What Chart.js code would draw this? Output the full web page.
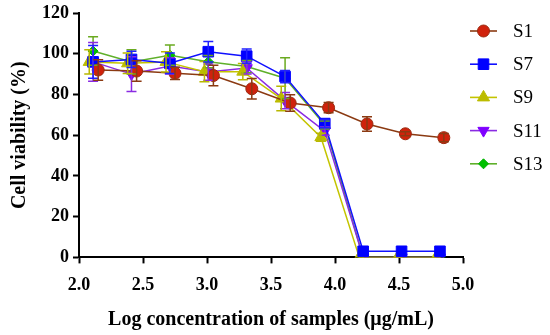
<!DOCTYPE html>
<html>
<head>
<meta charset="utf-8">
<script src="https://cdn.jsdelivr.net/npm/chart.js@4.4.0/dist/chart.umd.min.js"></script>
<style>
  html, body { margin: 0; padding: 0; background: #fff; }
  #wrap { width: 550px; height: 335px; position: relative; }
</style>
</head>
<body>
<div id="wrap"><canvas id="viability-chart"></canvas></div>
<script>
// log concentrations (µg/mL)
const logConc = [2.11, 2.41, 2.71, 3.01, 3.31, 3.61, 3.92, 4.22, 4.52, 4.82];
const logConcS1 = [2.15, 2.45, 2.75, 3.05, 3.35, 3.65, 3.95, 4.25, 4.55, 4.85];
const logConcS9 = [2.08, 2.38, 2.68, 2.98, 3.28, 3.58, 3.89, 4.19, 4.49, 4.79];

const s1 = [92, 91.5, 90.4, 89.3, 82.8, 75.8, 73.5, 65.5, 60.7, 58.8];
const s1Err = [5, 5, 3, 5, 5, 4, 2.5, 3.5, 1, 2];
const s7 = [96, 97.2, 95.3, 101, 98.8, 88.8, 65.7, 3, 3, 3];
const s7Err = [8, 4, 5, 5, 3.5, 3, 2, 0.5, 0.5, 0.5];
const s9 = [96, 95.3, 96, 91.2, 91.2, 78, 59, 0, 0, 0];
const s9Err = [6, 5, 5, 5, 4, 6, 2, 0.5, 0.5, 0.5];
const s11 = [96, 90, 94, 91, 93, 77, 62, 0, 0, 0];
const s11Err = [9.5, 8.5, 4, 4, 3, 4, 2, 0.5, 0.5, 0.5];
const s13 = [101.3, 96, 99.3, 96.1, 93.7, 88, 65, 0, 0, 0];
const s13Err = [7, 6, 5, 3, 3, 10, 2, 0.5, 0.5, 0.5];

const xTicks = [2.0, 2.5, 3.0, 3.5, 4.0, 4.5, 5.0];
const yTicks = [0, 20, 40, 60, 80, 100, 120];

const serif = "'Liberation Serif', 'DejaVu Serif', serif";

function pts(xs, ys) { return xs.map((x, i) => ({ x: x, y: ys[i] })); }

function series(label, xs, ys, errs, opts) {
    return Object.assign({
        label: label,
        data: pts(xs, ys),
        errors: errs,
        borderWidth: 1.5,
        pointBorderWidth: 1,
        tension: 0,
        fill: false,
        clip: { left: false, top: false, right: false, bottom: 0 }
    }, opts);
}

const datasets = [
    series('S1', logConcS1, s1, s1Err, {
        borderColor: '#8b3a12', pointBackgroundColor: '#d0220c', pointBorderColor: '#9a2a10',
        pointStyle: 'circle', pointRadius: 6, errColor: '#8b3a12'
    }),
    series('S7', logConc, s7, s7Err, {
        borderColor: '#1010ff', pointBackgroundColor: '#0000ff', pointBorderColor: '#0000ff',
        pointStyle: 'rect', pointRadius: 7.5, errColor: '#2020ff'
    }),
    series('S9', logConcS9, s9, s9Err, {
        borderColor: '#c4c400', pointBackgroundColor: '#bcbc00', pointBorderColor: '#bcbc00',
        pointStyle: 'triangle', pointRadius: 7, errColor: '#b8b800'
    }),
    series('S11', logConc, s11, s11Err, {
        borderColor: '#8a2be2', pointBackgroundColor: '#7f00ff', pointBorderColor: '#7f00ff',
        pointStyle: 'triangle', pointRotation: 180, pointRadius: 6.5, errColor: '#8a2be2'
    }),
    series('S13', logConc, s13, s13Err, {
        borderColor: '#5fb02a', pointBackgroundColor: '#00c000', pointBorderColor: '#00b000',
        pointStyle: 'rectRot', pointRadius: 5, errColor: '#6aaa20'
    })
];

// vertical error bars with caps
const errorBars = {
    id: 'errorBars',
    afterDatasetsDraw(chart) {
        const ctx = chart.ctx;
        const ys = chart.scales.y;
        ctx.save();
        for (let d = chart.data.datasets.length - 1; d >= 0; d--) {
            const ds = chart.data.datasets[d];
            const meta = chart.getDatasetMeta(d);
            ctx.strokeStyle = ds.errColor;
            ctx.lineWidth = 1.5;
            meta.data.forEach((el, i) => {
                const e = ds.errors[i];
                if (!e || e < 1) return;
                const v = ds.data[i].y;
                const top = ys.getPixelForValue(v + e);
                const bot = ys.getPixelForValue(Math.max(v - e, 0));
                ctx.beginPath();
                ctx.moveTo(el.x, top); ctx.lineTo(el.x, bot);
                ctx.moveTo(el.x - 5, top); ctx.lineTo(el.x + 5, top);
                ctx.moveTo(el.x - 5, bot); ctx.lineTo(el.x + 5, bot);
                ctx.stroke();
            });
        }
        ctx.restore();
    }
};

// legend on the right: line + marker + label
const sideLegend = {
    id: 'sideLegend',
    afterDraw(chart) {
        const ctx = chart.ctx;
        ctx.save();
        chart.data.datasets.forEach((ds, i) => {
            const y = 31 + i * 33.2;
            ctx.strokeStyle = ds.borderColor;
            ctx.lineWidth = 1.6;
            ctx.beginPath();
            ctx.moveTo(470, y); ctx.lineTo(497, y);
            ctx.stroke();
            ctx.fillStyle = ds.pointBackgroundColor;
            ctx.strokeStyle = ds.pointBorderColor;
            ctx.lineWidth = 1;
            Chart.helpers.drawPoint(ctx, {
                pointStyle: ds.pointStyle,
                radius: ds.pointRadius,
                rotation: ds.pointRotation || 0,
                borderWidth: 1
            }, 483.5, y);
            ctx.fillStyle = '#000';
            ctx.font = '19px ' + serif;
            ctx.textBaseline = 'middle';
            ctx.fillText(ds.label, 513, y + 1);
        });
        ctx.restore();
    }
};

const axisCommon = {
    grid: { display: true, drawOnChartArea: false, drawTicks: true, tickLength: 6, tickWidth: 2, tickColor: '#000' },
    border: { display: true, color: '#000', width: 2 }
};

new Chart(document.getElementById('viability-chart').getContext('2d'), {
    type: 'line',
    data: { datasets: datasets },
    plugins: [errorBars, sideLegend],
    options: {
        responsive: true,
        maintainAspectRatio: false,
        animation: false,
        layout: { padding: { left: 8, right: 87, top: 0, bottom: 3 } },
        plugins: { legend: { display: false }, tooltip: { enabled: false } },
        scales: {
            x: Object.assign({
                type: 'linear', min: 2, max: 5,
                afterBuildTicks: s => { s.ticks = xTicks.map(v => ({ value: v })); },
                ticks: {
                    callback: v => v.toFixed(1), color: '#000', padding: 11, maxRotation: 0,
                    font: { family: serif, size: 18, weight: 'bold' }
                },
                title: {
                    display: true, text: 'Log concentration of samples (\u03bcg/mL)', color: '#000',
                    font: { family: serif, size: 20, weight: 'bold' }, padding: { top: 1, bottom: 0 }
                }
            }, axisCommon),
            y: Object.assign({
                type: 'linear', min: 0, max: 120,
                afterBuildTicks: s => { s.ticks = yTicks.map(v => ({ value: v })); },
                ticks: {
                    color: '#000', padding: 4,
                    font: { family: serif, size: 18, weight: 'bold', lineHeight: 1.0 }
                },
                title: {
                    display: true, text: 'Cell viability (%)', color: '#000',
                    font: { family: serif, size: 20, weight: 'bold' }, padding: { top: 0, bottom: 6 }
                }
            }, axisCommon)
        }
    }
});
</script>
</body>
</html>
